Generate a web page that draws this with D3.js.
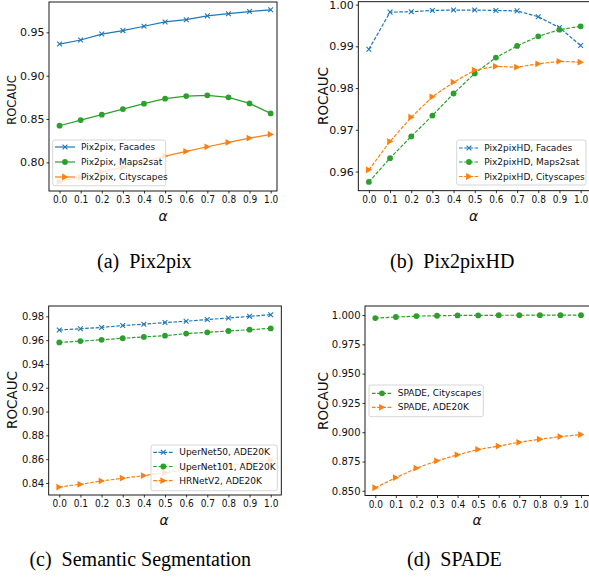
<!DOCTYPE html>
<html>
<head>
<meta charset="utf-8">
<script src="https://cdn.jsdelivr.net/npm/d3@7"></script>
<style>
body { margin: 0; background: #fff; }
svg { display: block; font-family: "DejaVu Sans", sans-serif; }
</style>
</head>
<body>
<svg id="fig" width="589" height="581"></svg>
<script>
// x values shared by every panel
var alphas = [0.0, 0.1, 0.2, 0.3, 0.4, 0.5, 0.6, 0.7, 0.8, 0.9, 1.0];

// (a) Pix2pix
var pix2pixFacades = [0.9365, 0.9412, 0.948, 0.952, 0.957, 0.962, 0.9646, 0.969, 0.9715, 0.974, 0.976];
var pix2pixMaps = [0.8423, 0.8488, 0.855, 0.8615, 0.8677, 0.8735, 0.8765, 0.8773, 0.875, 0.868, 0.8565];
var pix2pixCity = [0.7777, 0.783, 0.789, 0.7946, 0.8004, 0.8073, 0.8127, 0.818, 0.823, 0.828, 0.8323];
var ticksA = [0.80, 0.85, 0.90, 0.95];

// (b) Pix2pixHD
var hdFacades = [0.9893, 0.9982, 0.9983, 0.9986, 0.9987, 0.9987, 0.9986, 0.9985, 0.9971, 0.9945, 0.9902];
var hdMaps = [0.9575, 0.9632, 0.9684, 0.9734, 0.9787, 0.9835, 0.9873, 0.9901, 0.9924, 0.994, 0.9948];
var hdCity = [0.9604, 0.9672, 0.973, 0.9779, 0.9814, 0.9843, 0.9852, 0.985, 0.9858, 0.9864, 0.9862];
var ticksB = [0.96, 0.97, 0.98, 0.99, 1.00];

// (c) semantic segmentation
var uper50 = [0.9685, 0.9696, 0.9707, 0.9723, 0.9734, 0.9748, 0.9759, 0.9773, 0.9786, 0.98, 0.9814];
var uper101 = [0.9581, 0.9592, 0.9603, 0.9616, 0.9627, 0.9638, 0.9655, 0.9666, 0.9677, 0.9688, 0.9699];
var hrnet = [0.8366, 0.8389, 0.8417, 0.844, 0.8462, 0.8487, 0.851, 0.853, 0.855, 0.857, 0.8593];
var ticksC = [0.84, 0.86, 0.88, 0.90, 0.92, 0.94, 0.96, 0.98];

// (d) SPADE
var spadeCity = [0.9974, 0.9983, 0.9991, 0.9994, 0.9997, 0.9997, 0.9998, 0.9998, 0.9999, 0.9999, 0.9999];
var spadeAde = [0.8526, 0.8612, 0.8693, 0.8756, 0.8807, 0.8853, 0.8882, 0.8914, 0.894, 0.8963, 0.898];
var ticksD = [0.850, 0.875, 0.900, 0.925, 0.950, 0.975, 1.000];

var blue = "#1f77b4", orange = "#ff7f0e", green = "#2ca02c";

var panels = [
  {
    box: {left: 49, right: 277, top: 2, bottom: 191}, xDom: [-0.05, 1.03], yDom: [0.767, 0.985],
    yTicks: ticksA, yFmt: ".2f", yFont: 11, dashed: false,
    series: [
      {name: "Pix2pix, Facades", values: pix2pixFacades, color: blue, marker: "x"},
      {name: "Pix2pix, Maps2sat", values: pix2pixMaps, color: green, marker: "o"},
      {name: "Pix2pix, Cityscapes", values: pix2pixCity, color: orange, marker: ">"}
    ],
    legend: {x: 52.7, y: 140, w: 113, h: 45.7, rowY: [147, 162, 177], hx: 55, tx: 81},
    ylab: {x: 16, y: 100, size: 11.5}, alpha: {x: 163, y: 220.5},
    caption: {x: 97, y: 267.5, tag: "(a)", text: "Pix2pix"}
  },
  {
    box: {left: 358.3, right: 591.2, top: 1.7, bottom: 190.7}, xDom: [-0.05, 1.05], yDom: [0.9554, 1.0007],
    yTicks: ticksB, yFmt: ".2f", yFont: 11, dashed: true,
    series: [
      {name: "Pix2pixHD, Facades", values: hdFacades, color: blue, marker: "x"},
      {name: "Pix2pixHD, Maps2sat", values: hdMaps, color: green, marker: "o"},
      {name: "Pix2pixHD, Cityscapes", values: hdCity, color: orange, marker: ">"}
    ],
    legend: {x: 456.7, y: 140, w: 129.3, h: 45, rowY: [148, 162, 176.5], hx: 459, tx: 484.3},
    ylab: {x: 328, y: 96, size: 13.5}, alpha: {x: 473.5, y: 220.5},
    caption: {x: 390, y: 267.5, tag: "(b)", text: "Pix2pixHD"}
  },
  {
    box: {left: 48.7, right: 281.3, top: 306, bottom: 495}, xDom: [-0.05, 1.05], yDom: [0.8299, 0.9887],
    yTicks: ticksC, yFmt: ".2f", yFont: 10, dashed: true,
    series: [
      {name: "UperNet50, ADE20K", values: uper50, color: blue, marker: "x"},
      {name: "UperNet101, ADE20K", values: uper101, color: green, marker: "o"},
      {name: "HRNetV2, ADE20K", values: hrnet, color: orange, marker: ">"}
    ],
    legend: {x: 151, y: 445, w: 126.3, h: 45.7, rowY: [452.3, 466.5, 480.7], hx: 153.3, tx: 179.3},
    ylab: {x: 17, y: 400, size: 13.5}, alpha: {x: 164, y: 525},
    caption: {x: 29.4, y: 566, tag: "(c)", text: "Semantic Segmentation"}
  },
  {
    box: {left: 365, right: 591.3, top: 306, bottom: 495.5}, xDom: [-0.05, 1.05], yDom: [0.846, 1.0077],
    yTicks: ticksD, yFmt: ".3f", yFont: 10, dashed: true,
    series: [
      {name: "SPADE, Cityscapes", values: spadeCity, color: green, marker: "o"},
      {name: "SPADE, ADE20K", values: spadeAde, color: orange, marker: ">"}
    ],
    legend: {x: 369, y: 385, w: 114.3, h: 31.7, rowY: [393.3, 407.3], hx: 372, tx: 397.7},
    ylab: {x: 328, y: 401, size: 13.5}, alpha: {x: 477, y: 525},
    caption: {x: 407, y: 566, tag: "(d)", text: "SPADE"}
  }
];

var svg = d3.select("#fig");

function drawMarker(g, kind, color) {
  if (kind === "x") {
    g.append("path").attr("d", "M-2.4,-2.4L2.4,2.4M-2.4,2.4L2.4,-2.4")
      .attr("stroke", color).attr("stroke-width", 1.1).attr("fill", "none");
  } else if (kind === "o") {
    g.append("circle").attr("r", 2.9).attr("fill", color);
  } else {
    g.append("path").attr("d", "M-2.9,-3.4L3.4,0L-2.9,3.4Z").attr("fill", color);
  }
}

panels.forEach(function(p) {
  var x = d3.scaleLinear().domain(p.xDom).range([p.box.left, p.box.right]);
  var y = d3.scaleLinear().domain(p.yDom).range([p.box.bottom, p.box.top]);
  var g = svg.append("g");

  // axes
  var yAxis = d3.axisLeft(y).tickValues(p.yTicks).tickFormat(d3.format(p.yFmt))
      .tickSize(2.5).tickSizeOuter(0).tickPadding(2);
  var xAxis = d3.axisBottom(x).tickValues(alphas).tickFormat(d3.format(".1f"))
      .tickSize(2.5).tickSizeOuter(0).tickPadding(2);
  var ya = g.append("g").attr("transform", "translate(" + p.box.left + ",0)").call(yAxis);
  var xa = g.append("g").attr("transform", "translate(0," + p.box.bottom + ")").call(xAxis);
  [ya, xa].forEach(function(a) {
    a.select(".domain").remove();
    a.attr("font-family", "DejaVu Sans").attr("font-size", null);
    a.selectAll("line").attr("stroke", "#000").attr("stroke-width", 0.8);
    a.selectAll("text").attr("fill", "#111");
  });
  ya.selectAll("text").attr("font-size", p.yFont);
  xa.selectAll("text").attr("font-size", 11).attr("transform", "scale(0.82,1)");

  // series lines + markers
  p.series.forEach(function(s) {
    var pts = alphas.map(function(a, i) { return [a, s.values[i]]; });
    var line = d3.line().x(function(d) { return x(d[0]); }).y(function(d) { return y(d[1]); });
    g.append("path").datum(pts).attr("d", line)
      .attr("fill", "none").attr("stroke", s.color).attr("stroke-width", 1.2)
      .attr("stroke-dasharray", p.dashed ? "3.6,1.6" : null);
    g.selectAll(null).data(pts).enter().append("g")
      .attr("transform", function(d) { return "translate(" + x(d[0]) + "," + y(d[1]) + ")"; })
      .each(function() { drawMarker(d3.select(this), s.marker, s.color); });
  });

  // frame
  g.append("rect").attr("x", p.box.left).attr("y", p.box.top)
    .attr("width", p.box.right - p.box.left).attr("height", p.box.bottom - p.box.top)
    .attr("fill", "none").attr("stroke", "#000").attr("stroke-width", 0.9);

  // legend
  var L = p.legend;
  var lg = g.append("g");
  lg.append("rect").attr("x", L.x).attr("y", L.y).attr("width", L.w).attr("height", L.h)
    .attr("rx", 2).attr("fill", "#fff").attr("fill-opacity", 0.8)
    .attr("stroke", "#ccc").attr("stroke-width", 0.8);
  p.series.forEach(function(s, i) {
    var ry = L.rowY[i];
    lg.append("line").attr("x1", L.hx).attr("x2", L.hx + 20).attr("y1", ry).attr("y2", ry)
      .attr("stroke", s.color).attr("stroke-width", 1.2)
      .attr("stroke-dasharray", p.dashed ? "3.6,1.6" : null);
    drawMarker(lg.append("g").attr("transform", "translate(" + (L.hx + 10) + "," + ry + ")"), s.marker, s.color);
    lg.append("text").attr("x", L.tx).attr("y", ry).attr("dy", "0.35em")
      .attr("font-size", 9).attr("fill", "#111").text(s.name);
  });

  // axis titles
  g.append("text").attr("transform", "translate(" + p.ylab.x + "," + p.ylab.y + ") rotate(-90)")
    .attr("text-anchor", "middle").attr("font-size", p.ylab.size).attr("fill", "#111").text("ROCAUC");
  g.append("text").attr("x", p.alpha.x).attr("y", p.alpha.y).attr("text-anchor", "middle")
    .attr("font-size", 14).attr("font-style", "italic").attr("fill", "#111").text("α");

  // sub caption
  g.append("text").attr("x", p.caption.x).attr("y", p.caption.y)
    .attr("font-family", "Liberation Serif").attr("font-size", 20).attr("fill", "#000")
    .text(p.caption.tag + "\u2002" + p.caption.text);
});
</script>
</body>
</html>
